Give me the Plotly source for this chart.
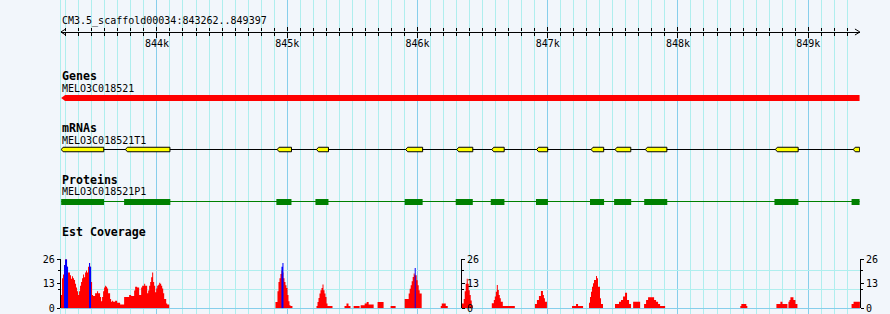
import numpy as np
import plotly.graph_objects as go

# ---------------- data ----------------
scaffold = "CM3.5_scaffold00034"
view_start, view_end = 843262, 849397

track_names = ["Genes", "mRNAs", "Proteins", "Est Coverage"]

gene_name = "MELO3C018521"
gene_start, gene_end = 843265, 849395

mrna_name = "MELO3C018521T1"
mrna_exon_starts = [843265, 843758, 844923, 845225, 845910, 846302, 846571,
                    846915, 847333, 847517, 847750, 848748, 849346]
mrna_exon_ends = [843592, 844100, 845033, 845317, 846040, 846425, 846666,
                  847000, 847430, 847638, 847915, 848923, 849395]

protein_name = "MELO3C018521P1"
cds_starts = [843265, 843748, 844917, 845217, 845902, 846294, 846563,
              846910, 847325, 847510, 847741, 848741, 849333]
cds_ends = [843594, 844103, 845033, 845317, 846040, 846425, 846668,
            847002, 847433, 847641, 847918, 848925, 849395]

cov_bin = 7.69  # bp per coverage bin
cov_seg_starts = [843256, 844910, 845025, 845225, 845440, 845510, 845564,
                  845694, 845794, 845902, 846179, 846340, 846571, 846902,
                  847187, 847317, 847517, 847656, 847740, 848479, 848756,
                  849333]
cov_seg_values = [
    [2, 7, 16, 18, 23, 26, 26, 22, 19, 19, 17.5, 15.7, 17, 16, 15, 13, 11, 9,
     7, 9, 12, 14, 16, 18, 16.5, 19, 20, 19, 22, 24, 22, 14, 7, 6.5, 6.5, 8,
     8, 9, 8, 8, 6, 3.7, 6, 9, 11, 12, 11.5, 10.5, 8, 8, 5, 3.5, 4, 3.5, 3.5,
     4, 4, 3, 3, 3, 2, 2, 2, 2, 6, 6, 6, 6, 6, 7, 7, 6.5, 6.5, 6.5, 9.5, 11.5,
     11.5, 11, 11, 7, 7, 11, 12, 12, 13, 12, 12, 8, 9.5, 12, 14, 16.5, 19, 14,
     12, 8.5, 10.5, 12, 12.5, 13.5, 13, 12, 10.5, 8, 5, 5, 2.5, 2, 2],
    [3.4, 3.4, 9, 14, 16, 18.2, 20, 19, 16, 14, 12.2, 10.8, 7, 3.7, 1.6],
    [1.2, 1.2],
    [1.2, 3.4, 5.5, 7.8, 9.6, 10.8, 12.6, 9.6, 7.8, 6, 2.5, 1.2, 1.2, 1.2,
     1.2, 1.2],
    [1.2, 1.2, 2.5, 2.5, 1.2, 1.2],
    [1.2, 1.2, 1.2, 1.2, 1.2, 1.2],
    [1.6, 1.6, 1.6, 1.6, 2.5, 2.5, 3.4, 3.4, 2, 2, 2, 2, 2],
    [3.4, 3.4, 3.4, 3.4, 3.4, 3.4],
    [1.2, 1.2, 1.2, 1.2, 1.2],
    [5, 5, 5, 5, 7.8, 10.4, 12.2, 14.3, 16.6, 18.4, 17.5, 17.5, 14.9, 12.2,
     9.6, 7.8, 7.8],
    [1.2, 2.5, 2.5, 2.5, 2.5, 1.2, 1.2],
    [2.5, 2.5, 5, 9, 13, 15.7, 13, 9.6, 7, 4.2, 1.6],
    [2.7, 2.7, 4.4, 6.2, 8.8, 12.4, 9.7, 7, 5.3, 3.5, 3.5, 1.2, 1.2, 1.2,
     1.2, 1.2, 1.2, 1.2, 1.2, 1.2, 1.2, 1.2, 1.2],
    [2.3, 2.3, 4.4, 4.4, 6.5, 6.5, 9.2, 9.2, 7, 5.3, 3.5, 3.5],
    [1.2, 1.2, 1.2, 1.2, 2.3, 2.3, 1.2, 1.2, 1.2, 1.2, 1.2],
    [3, 6, 8.8, 11.5, 13.3, 15, 15, 17.2, 16, 11.5, 11.5, 5.3, 2.3, 2.3],
    [2.3, 2.3, 2.3, 2.3, 3.5, 3.5, 4.4, 4.4, 6.2, 6.2, 8.3, 8.3, 4.4, 4.4,
     2.3, 2.3],
    [3.5, 3.5, 3.5, 3.5, 3.5, 3.5, 3.5],
    [2.3, 2.3, 4.4, 4.4, 5.8, 5.8, 5.8, 5.8, 5.8, 5.8, 4.4, 4.4, 3.5, 3.5,
     2.3, 2.3, 1.2, 1.2, 1.2, 1.2, 1.2],
    [1.2, 2.3, 2.3, 2.3, 2.3, 2.3, 1.2],
    [2.3, 2.3, 2.3, 2.3, 3.5, 3.5, 2.3, 2.3, 2.3, 2.3, 2.3, 0, 3.5, 4.4, 5.8,
     5.8, 5.8, 4.4, 4.4, 2.3, 2.3],
    [2.3, 2.3, 3.5, 3.5, 3.5, 3.5, 3.5, 3.5, 3.5, 3.5],
]
peak_seg_starts = [843287, 843479, 844956, 845979]
peak_seg_values = [[23, 26, 26, 22], [24, 22], [22, 24], [21.4]]

cov_tick_vals = [0, 13, 26]
cov_minor_vals = [10, 20]
cov_grid_vals = [0, 10, 20, 26]
cov_max = 26

# ---------------- styling / geometry ----------------
W, H = 890, 314
X0_PX, X1_PX = 60.8, 859.9
MID_AXIS_PX = 461
BG = "#F2F6FB"
GRID_MINOR = "#AFEEEE"
GRID_MAJOR = "#87CEEB"
MONO = "DejaVu Sans Mono"


def py(px):
    return (H - px) / H


xd = [X0_PX / W, X1_PX / W]

fig = go.Figure()


def dummy(xa, ya):
    fig.add_trace(go.Scatter(x=[view_start], y=[0], xaxis=xa, yaxis=ya,
                             mode="markers", marker=dict(opacity=0),
                             hoverinfo="skip", showlegend=False))


dummy("x", "y")
dummy("x2", "y2")
dummy("x3", "y3")

# ruler arrows (chevrons at both ends)
arrow_bp = 38
ax_ = [view_start + arrow_bp, view_start, view_start + arrow_bp, None,
       view_end - arrow_bp, view_end, view_end - arrow_bp]
ay_ = [0.75, 0, -0.75, None, 0.75, 0, -0.75]
fig.add_trace(go.Scatter(x=ax_, y=ay_, xaxis="x", yaxis="y4", mode="lines",
                         line=dict(color="black", width=1), hoverinfo="skip"))

# gene (minus strand arrow)
head = 30
gx = [gene_start + head, gene_end, gene_end, gene_start + head, gene_start,
      gene_start + head]
gy = [0.5, 0.5, -0.5, -0.5, 0, 0.5]
fig.add_trace(go.Scatter(x=gx, y=gy, xaxis="x", yaxis="y5", mode="lines",
                         fill="toself", fillcolor="#FF0000",
                         line=dict(width=0, color="#FF0000"), hoverinfo="skip"))

# mRNA
fig.add_trace(go.Scatter(x=[min(mrna_exon_starts), max(mrna_exon_ends)],
                         y=[0, 0], xaxis="x", yaxis="y6", mode="lines",
                         line=dict(color="black", width=1), hoverinfo="skip"))
taper = 15
ex, ey = [], []
hh = 0.375
for s, e in zip(mrna_exon_starts, mrna_exon_ends):
    ex += [s + taper, e, e, s + taper, s, s + taper, None]
    ey += [hh, hh, -hh, -hh, 0, hh, None]
fig.add_trace(go.Scatter(x=ex, y=ey, xaxis="x", yaxis="y6", mode="lines",
                         fill="toself", fillcolor="#FFFF00",
                         line=dict(color="black", width=1), hoverinfo="skip"))

# protein (connector drawn half a pixel above the box centre so it is crisp)
conn_off = 0.5 / 6.0
fig.add_trace(go.Scatter(x=[min(cds_starts), max(cds_ends)],
                         y=[conn_off, conn_off],
                         xaxis="x", yaxis="y7", mode="lines",
                         line=dict(color="#008000", width=1), hoverinfo="skip"))
px_, py_ = [], []
for s, e in zip(cds_starts, cds_ends):
    px_ += [s, e, e, s, s, None]
    py_ += [0.5, 0.5, -0.5, -0.5, 0.5, None]
fig.add_trace(go.Scatter(x=px_, y=py_, xaxis="x", yaxis="y7", mode="lines",
                         fill="toself", fillcolor="#008000",
                         line=dict(color="#008000", width=0), hoverinfo="skip"))


# coverage
def step_xy(starts, values, binw):
    xs, ys = [], []
    for s, vals in zip(starts, values):
        edges = s + binw * np.arange(len(vals) + 1)
        xs.append(edges[0]); ys.append(0)
        for e, v in zip(edges[:-1], vals):
            xs.append(e); ys.append(v)
        xs.append(edges[-1]); ys.append(0)
    return xs, ys


cx, cy = step_xy(cov_seg_starts, cov_seg_values, cov_bin)
fig.add_trace(go.Scatter(x=cx, y=cy, xaxis="x", yaxis="y8", mode="lines",
                         line=dict(width=0, color="#FF0000", shape="hv"),
                         fill="tozeroy", fillcolor="#FF0000", hoverinfo="skip"))
bx, by = step_xy(peak_seg_starts, peak_seg_values, cov_bin)
fig.add_trace(go.Scatter(x=bx, y=by, xaxis="x", yaxis="y8", mode="lines",
                         line=dict(width=0, color="#0000FF", shape="hv"),
                         fill="tozeroy", fillcolor="#0000FF", hoverinfo="skip"))
dummy("x", "y9")
dummy("x", "y10")
dummy("x", "y11")

hidden_y = dict(visible=False, range=[-1, 1], fixedrange=True,
                automargin=False)
cov_axis = dict(range=[0, cov_max], tickmode="array", tickvals=cov_tick_vals,
                ticks="outside", ticklen=3, tickcolor="black",
                showline=True, linecolor="black", linewidth=1,
                showgrid=False, zeroline=False, automargin=False,
                tickfont=dict(family=MONO, size=10, color="black"),
                minor=dict(tickmode="array", tickvals=cov_minor_vals,
                           ticks="outside", ticklen=2, tickcolor="black",
                           showgrid=False),
                fixedrange=True)
cov_dom = [py(308.3), py(259.3)]

fig.update_layout(
    template="none",
    width=W, height=H, autosize=False,
    margin=dict(l=0, r=0, t=0, b=0, pad=0, autoexpand=False),
    paper_bgcolor=BG, plot_bgcolor="rgba(0,0,0,0)",
    showlegend=False, hovermode=False,
    xaxis=dict(domain=xd, range=[view_start, view_end], anchor="y",
               showgrid=True, gridcolor=GRID_MAJOR, gridwidth=1,
               tickmode="linear", tick0=0, dtick=1000,
               minor=dict(tick0=0, dtick=100, showgrid=True,
                          gridcolor=GRID_MINOR, gridwidth=1),
               showticklabels=False, ticks="", zeroline=False,
               showline=False, fixedrange=True, automargin=False),
    yaxis=dict(domain=[0, 1], range=[0, 1], anchor="x", showline=True,
               linecolor=GRID_MINOR, linewidth=1, showgrid=False,
               zeroline=False, showticklabels=False, ticks="",
               fixedrange=True, automargin=False),
    xaxis2=dict(matches="x", domain=xd, anchor="y2", showline=True,
                linecolor="black", linewidth=1, showgrid=False,
                zeroline=False, tickmode="linear", tick0=0, dtick=1000,
                tickformat="~s", ticks="outside", ticklen=5,
                tickcolor="black", tickwidth=1, ticklabelstandoff=-3,
                tickfont=dict(family=MONO, size=10, color="black"),
                minor=dict(tick0=0, dtick=100, ticks="outside", ticklen=3,
                           tickcolor="black", showgrid=False),
                fixedrange=True, automargin=False),
    yaxis2=dict(domain=[py(32), py(20)], visible=False, range=[0, 1],
                anchor="x2", fixedrange=True, automargin=False),
    xaxis3=dict(matches="x", domain=xd, anchor="y3", side="top",
                showline=False, showgrid=False, zeroline=False,
                tickmode="linear", tick0=0, dtick=1000, ticks="outside",
                ticklen=4, tickcolor="black", showticklabels=False,
                minor=dict(tick0=0, dtick=100, ticks="outside", ticklen=3,
                           tickcolor="black", showgrid=False),
                fixedrange=True, automargin=False),
    yaxis3=dict(domain=[py(44), py(32)], visible=False, range=[0, 1],
                anchor="x3", fixedrange=True, automargin=False),
    yaxis4=dict(domain=[py(36), py(28)], anchor="x", **hidden_y),
    yaxis5=dict(domain=[py(104), py(92)], anchor="x", **hidden_y),
    yaxis6=dict(domain=[py(155.5), py(143.5)], anchor="x", **hidden_y),
    yaxis7=dict(domain=[py(208), py(196)], anchor="x", **hidden_y),
    yaxis8=dict(domain=cov_dom, anchor="x", side="left", **cov_axis),
    yaxis9=dict(overlaying="y8", anchor="free", position=MID_AXIS_PX / W,
                side="right", **cov_axis),
    yaxis10=dict(overlaying="y8", anchor="x", side="right", **cov_axis),
    yaxis11=dict(overlaying="y8", anchor="x", range=[0, cov_max],
                 tickmode="array", tickvals=cov_grid_vals, showgrid=True,
                 gridcolor=GRID_MINOR, gridwidth=1, zeroline=True,
                 zerolinecolor=GRID_MAJOR, zerolinewidth=1,
                 showticklabels=False, ticks="", showline=False,
                 fixedrange=True, automargin=False),
)


def label(text, ypx, bold=False):
    fig.add_annotation(x=59.5 / W, y=py(ypx), xref="paper", yref="paper",
                       xanchor="left", yanchor="middle", showarrow=False,
                       text=f"<b>{text}</b>" if bold else text,
                       font=dict(family=MONO, size=11.6 if bold else 10,
                                 color="black"))


label(f"{scaffold}:{view_start}..{view_end}", 21)
label(track_names[0], 76, bold=True)
label(gene_name, 88)
label(track_names[1], 128, bold=True)
label(mrna_name, 140)
label(track_names[2], 179.5, bold=True)
label(protein_name, 191.5)
label(track_names[3], 231.7, bold=True)

fig.write_html("out.html")
